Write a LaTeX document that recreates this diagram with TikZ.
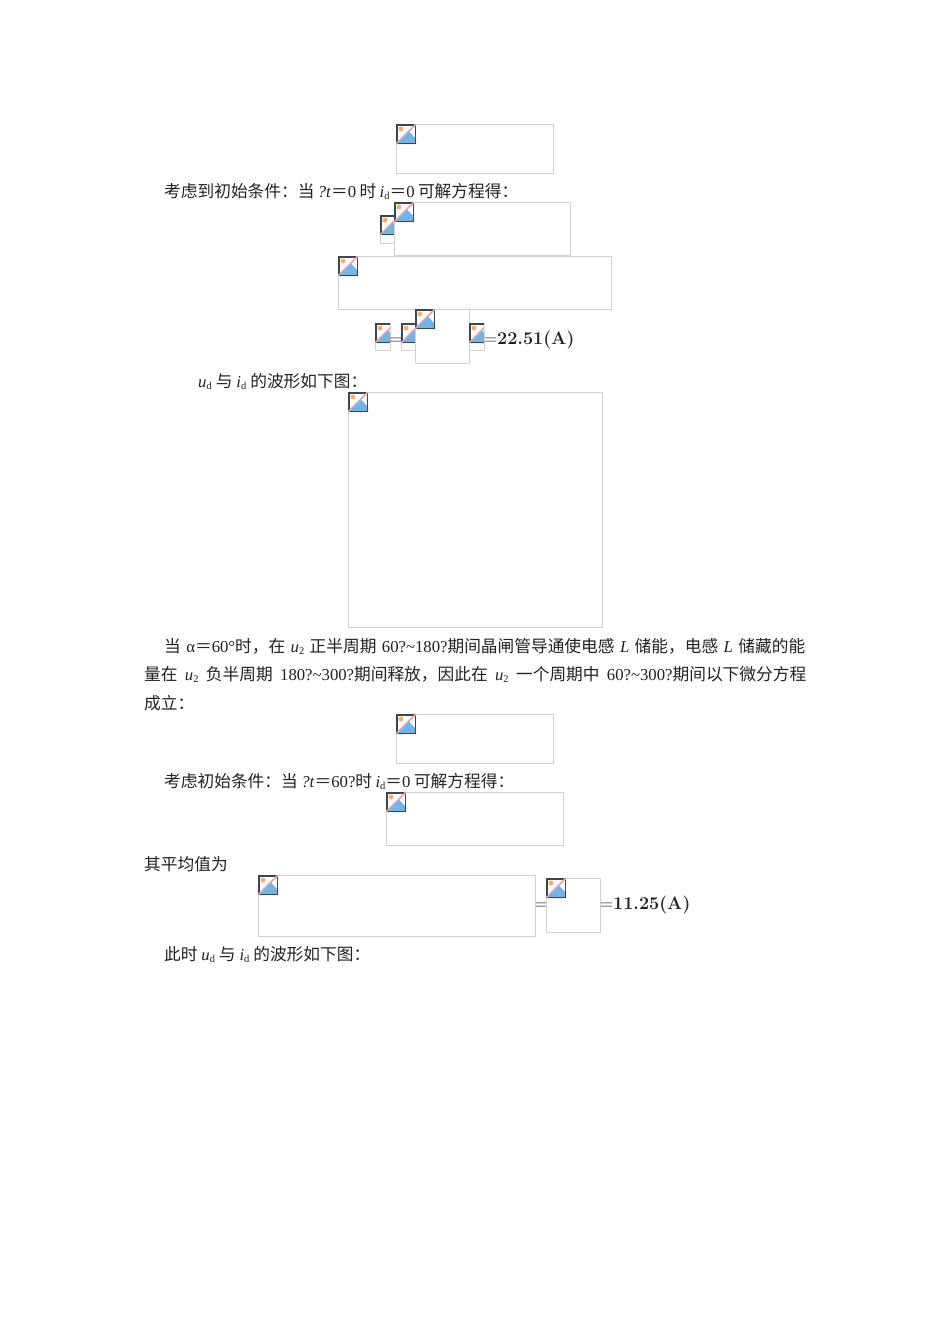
\documentclass[tikz,border=0pt]{standalone}
\usepackage{fontspec}
\usepackage{xcolor}
\usepackage{tikz}
\usetikzlibrary{positioning}
\newfontfamily\cjk{Noto Sans CJK SC}
\newfontfamily\latn{Liberation Serif}
\newcommand{\lat}[1]{{\latn #1}}
\newcommand{\idx}[2]{{\latn\textit{#1}\raisebox{-2.5pt}{\fontsize{10.5}{11}\selectfont #2}}}
\definecolor{boxline}{HTML}{D2D2D2}
\definecolor{iconline}{HTML}{3A4650}
\definecolor{iconblue}{HTML}{6FB5EA}
\definecolor{iconsun}{HTML}{F2B26B}
\definecolor{iconslash}{HTML}{E8A0A8}
\definecolor{textgray}{HTML}{222222}
\tikzset{
  imgbox/.style={draw=boxline, line width=0.9pt, fill=white, inner sep=0pt, outer sep=0pt, anchor=north west},
  line text/.style={anchor=base west, inner sep=0pt, text=textgray, font=\fontsize{16.7}{20}\selectfont\cjk},
  sum text/.style={line text, font=\fontsize{18}{20}\selectfont\bfseries},
  eq sign/.style={line text, font=\fontsize{18}{20}\selectfont},
  pics/brokenicon/.style={code={
    \clip (0,0) rectangle (#1,20);
    \fill[white] (0,0) rectangle (20,20);
    \fill[iconblue] (0,20) -- (13,7.5) -- (20,15) -- (20,20) -- cycle;
    \fill[iconsun] (5,5) circle (2.5);
    \draw[iconline, line width=1.5pt] (0.75,0.75) rectangle (19.25,19.25);
    \draw[iconslash, line width=1.7pt] (0,20) -- (20,0);
  }}
}
\newcommand{\imgbox}[6]{% name, left, top, right, bottom, icon width
  \node (#1) [imgbox, minimum width=#4pt-#2pt, minimum height=#5pt-#3pt] at (#2,#3) {};
  \pic at (#1.north west) {brokenicon=#6};
}
\begin{document}
\begin{tikzpicture}[x=1pt,y=-1pt]
        \useasboundingbox (0,0) rectangle (950,1344);
        \fill[white] (0,0) rectangle (950,1344);

        % Top equations
        \imgbox{eqa}{396}{124}{553}{173}{20}
        \node (conda) [line text] at (164,197) {\hbox to 354pt{考虑到初始条件：当\hfil\lat{\textit{?t}}＝\lat{0}\hfil 时\hfil\idx{i}{d}＝\lat{0}\hfil 可解方程得：}};

        \imgbox{eqbsmall}{380}{215}{394}{243}{14}
        \imgbox{eqb}{394}{202}{570}{255}{20}
        \imgbox{eqc}{338}{256}{611}{309}{20}

        % First result line
        \imgbox{resa}{375}{323}{390}{350}{15}
        \node (eqsigna) [eq sign] at (389,344) {=};
        \imgbox{resb}{401}{323}{416}{350}{15}
        \imgbox{resc}{415}{309}{469}{363}{20}
        \imgbox{resd}{469}{323}{484}{350}{15}
        \node (suma) [sum text] at (484,344) {\mdseries=\bfseries 22.51(A)};

        \node (wavea) [line text] at (198,387) {\hbox to 169pt{\idx{u}{d}\hfil 与\hfil\idx{i}{d}\hfil 的波形如下图：}};

        % Waveform picture
        \imgbox{wave}{348}{392}{602}{627}{20}

        % Paragraph
        \node (para1) [line text] at (164,652) {\hbox to 641pt{当\hfil\lat{α}＝\lat{60°}时，在\hfil\idx{u}{2}\hfil 正半周期\hfil\lat{60?\textasciitilde180?}期间晶闸管导通使电感\hfil\lat{\textit{L}}\hfil{}储能，电感\hfil\lat{\textit{L}}\hfil{}储藏的能}};
        \node (para2) [line text] at (144,680) {\hbox to 662pt{量在\hfil\idx{u}{2}\hfil 负半周期\hfil\lat{180?\textasciitilde300?}期间释放，因此在\hfil\idx{u}{2}\hfil 一个周期中\hfil\lat{60?\textasciitilde300?}期间以下微分方程}};
        \node (para3) [line text] at (144,709) {成立：};

        % Second group
        \imgbox{eqd}{396}{714}{553}{763}{20}
        \node (condb) [line text] at (164,787) {\hbox to 350pt{考虑初始条件：当\hfil\lat{\textit{?t}}＝\lat{60?}时\hfil\idx{i}{d}＝\lat{0}\hfil 可解方程得：}};
        \imgbox{eqe}{386}{792}{563}{845}{20}
        \node (mean) [line text] at (144,870) {其平均值为};

        % Second result line
        \imgbox{resf}{258}{875}{535}{936}{20}
        \node (eqsignb) [eq sign] at (535,909) {=};
        \imgbox{resg}{546}{878}{600}{932}{20}
        \node (sumb) [sum text] at (600,909) {\mdseries=\bfseries 11.25(A)};

        \node (waveb) [line text] at (164,960) {\hbox to 206pt{此时\hfil\idx{u}{d}\hfil 与\hfil\idx{i}{d}\hfil 的波形如下图：}};
\end{tikzpicture}
\end{document}
